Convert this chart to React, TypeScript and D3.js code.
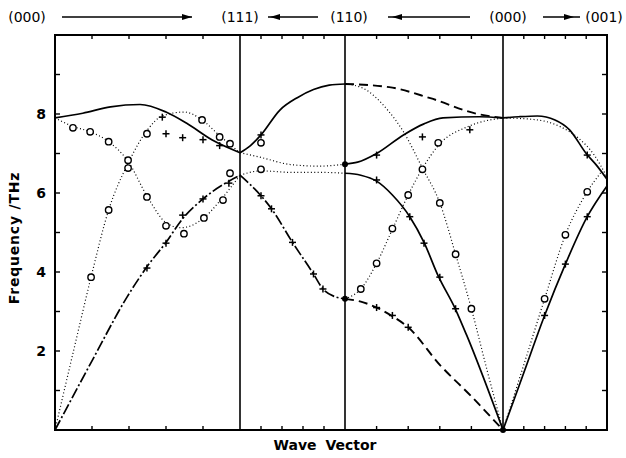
import React from "react";
import * as d3 from "d3";

type P = [number, number]; // [position along path, frequency THz]

// symmetry points along the wave-vector path
const pathStops = [0, 1, 2, 3, 4];
const stopLabels = ["(000)", "(111)", "(110)", "(000)", "(001)"];
const yTicks = [2, 4, 6, 8];

// (000) -> (111)
const seg0SolidTop: P[] = [[0, 7.9], [0.15, 8.02], [0.3, 8.18], [0.46, 8.24], [0.6, 8.05], [0.71, 7.77], [0.85, 7.34], [1, 7.02]];
const seg0DotDown: P[] = [[0, 7.9], [0.1, 7.68], [0.19, 7.55], [0.29, 7.3], [0.395, 6.8], [0.5, 5.9], [0.6, 5.25], [0.68, 5.12], [0.8, 5.35], [0.9, 5.85], [1, 6.45]];
const seg0DotUp: P[] = [[0, 0], [0.1, 2.0], [0.195, 3.87], [0.29, 5.57], [0.395, 6.75], [0.5, 7.6], [0.58, 7.95], [0.7, 8.05], [0.795, 7.85], [0.89, 7.45], [1, 7.02]];
const seg0Acoustic: P[] = [[0, 0], [0.2, 1.75], [0.39, 3.37], [0.5, 4.15], [0.6, 4.75], [0.69, 5.35], [0.8, 5.85], [0.94, 6.3], [1, 6.45]];

// (111) -> (110)
const seg1SolidTop: P[] = [[1, 7.02], [1.1, 7.2], [1.2, 7.47], [1.38, 8.1], [1.55, 8.42], [1.7, 8.62], [1.85, 8.73], [2, 8.76]];
const seg1DotA: P[] = [[1, 7.02], [1.2, 6.9], [1.48, 6.72], [1.75, 6.68], [2, 6.73]];
const seg1DotB: P[] = [[1, 6.45], [1.2, 6.56], [1.5, 6.52], [1.8, 6.52], [2, 6.5]];
const seg1Acoustic: P[] = [[1, 6.45], [1.2, 5.93], [1.3, 5.6], [1.5, 4.75], [1.7, 3.95], [1.79, 3.57], [1.9, 3.38], [2, 3.32]];

// (110) -> (000)
const seg2DashTop: P[] = [[2, 8.76], [2.28, 8.68], [2.54, 8.4], [2.84, 8.0], [3, 7.9]];
const seg2DotSteep: P[] = [[2, 8.76], [2.11, 8.66], [2.27, 8.1], [2.37, 7.55], [2.49, 6.63], [2.6, 5.75], [2.7, 4.45], [2.8, 3.07], [2.9, 1.5], [3, 0]];
const seg2SolidUp: P[] = [[2, 6.73], [2.08, 6.78], [2.2, 7.0], [2.37, 7.47], [2.5, 7.75], [2.62, 7.9], [2.85, 7.93], [3, 7.9]];
const seg2DotUp: P[] = [[2, 3.32], [2.1, 3.57], [2.2, 4.22], [2.3, 5.08], [2.4, 5.95], [2.49, 6.62], [2.59, 7.2], [2.79, 7.7], [3, 7.9]];
const seg2SolidDown: P[] = [[2, 6.5], [2.1, 6.45], [2.2, 6.3], [2.3, 5.95], [2.41, 5.4], [2.5, 4.75], [2.59, 3.9], [2.7, 3.05], [2.77, 2.4], [3, 0]];
const seg2DashLow: P[] = [[2, 3.32], [2.1, 3.25], [2.2, 3.1], [2.3, 2.88], [2.4, 2.6], [2.6, 1.65], [2.8, 0.85], [3, 0]];

// (000) -> (001)
const seg3SolidTop: P[] = [[3, 7.9], [3.15, 7.93], [3.33, 7.95], [3.5, 7.85], [3.64, 7.6], [3.8, 7.0], [3.9, 6.7], [4, 6.35]];
const seg3DotTop: P[] = [[3, 7.9], [3.3, 7.86], [3.55, 7.68], [3.72, 7.4], [3.88, 6.95], [4, 6.4]];
const seg3DotUp: P[] = [[3, 0], [3.2, 1.65], [3.4, 3.32], [3.6, 4.94], [3.81, 6.03], [3.95, 6.55]];
const seg3SolidUp: P[] = [[3, 0], [3.2, 1.45], [3.4, 2.9], [3.6, 4.2], [3.81, 5.4], [4, 6.18]];

// measured points
const circlePts: P[] = [
  [0.097, 7.65], [0.19, 7.55], [0.29, 7.3], [0.195, 3.87], [0.29, 5.57], [0.395, 6.83], [0.395, 6.63],
  [0.497, 7.5], [0.497, 5.9], [0.6, 5.17], [0.697, 4.97], [0.805, 5.37], [0.908, 5.82], [0.946, 6.5],
  [0.795, 7.85], [0.89, 7.42], [0.946, 7.25],
  [1.2, 7.27], [1.2, 6.6],
  [2.1, 3.57], [2.2, 4.22], [2.3, 5.1], [2.4, 5.95], [2.49, 6.6], [2.59, 7.27], [2.6, 5.75], [2.7, 4.45], [2.8, 3.07],
  [3.4, 3.32], [3.6, 4.94], [3.81, 6.03],
];
const crossPts: P[] = [
  [0.497, 4.1], [0.6, 4.73], [0.69, 5.44], [0.8, 5.85], [0.94, 6.25], [0.6, 7.5], [0.69, 7.4], [0.8, 7.35], [0.89, 7.2], [0.58, 7.92],
  [1.2, 7.47], [1.2, 5.93], [1.3, 5.6], [1.5, 4.75], [1.7, 3.95], [1.79, 3.57],
  [2.2, 6.96], [2.2, 6.33], [2.49, 7.42], [2.79, 7.6], [2.41, 5.4], [2.5, 4.73], [2.6, 3.87], [2.7, 3.07], [2.2, 3.1], [2.3, 2.9], [2.4, 2.6],
  [3.81, 6.96], [3.4, 2.9], [3.6, 4.2], [3.81, 5.4],
];
const nodePts: P[] = [[2, 6.73], [2, 3.32], [3, 0]];

const styles: Record<string, { dash: string; w: number }> = {
  solid: { dash: "none", w: 1.7 },
  dotted: { dash: "1 2.4", w: 1.2 },
  dashed: { dash: "9 5", w: 1.9 },
  dashdot: { dash: "11 2.5 2 2.5", w: 1.7 },
};

const curves: { pts: P[]; kind: string }[] = [
  { pts: seg0SolidTop, kind: "solid" },
  { pts: seg0DotDown, kind: "dotted" },
  { pts: seg0DotUp, kind: "dotted" },
  { pts: seg0Acoustic, kind: "dashdot" },
  { pts: seg1SolidTop, kind: "solid" },
  { pts: seg1DotA, kind: "dotted" },
  { pts: seg1DotB, kind: "dotted" },
  { pts: seg1Acoustic, kind: "dashdot" },
  { pts: seg2DashTop, kind: "dashed" },
  { pts: seg2DotSteep, kind: "dotted" },
  { pts: seg2SolidUp, kind: "solid" },
  { pts: seg2DotUp, kind: "dotted" },
  { pts: seg2SolidDown, kind: "solid" },
  { pts: seg2DashLow, kind: "dashed" },
  { pts: seg3SolidTop, kind: "solid" },
  { pts: seg3DotTop, kind: "dotted" },
  { pts: seg3DotUp, kind: "dotted" },
  { pts: seg3SolidUp, kind: "solid" },
];

const W = 626;
const H = 458;

const App: React.FC = () => {
  const x = d3.scaleLinear().domain(pathStops).range([55, 240, 345, 503, 607]);
  const y = d3.scaleLinear().domain([0, 10]).range([430, 35]);
  const [x0, x1] = [x(0), x(4)];
  const [yb, yt] = [y(0), y(10)];

  const line = d3.line<P>()
    .x(d => x(d[0]))
    .y(d => y(d[1]))
    .curve(d3.curveMonotoneX);

  // small ticks every 0.2 inside each segment
  const xTicks: number[] = [];
  for (let s = 0; s < 4; s++) for (let k = 1; k < 5; k++) xTicks.push(s + k * 0.2);
  const yMinor = d3.range(1, 10);

  const font = "'DejaVu Sans', sans-serif";
  // header label centres sit a little off the symmetry lines
  const labelShift = [-28, 0, 4, 5, -3];

  const head = (tipX: number, dir: number, cy: number) => (
    <path d={`M${tipX},${cy} L${tipX - dir * 10},${cy - 3} L${tipX - dir * 10},${cy + 3} Z`} fill="#000" />
  );

  return (
    <svg width={W} height={H} style={{ position: "absolute", left: 0, top: 0, background: "#fff" }}>
      {/* header path labels */}
      {stopLabels.map((t, i) => (
        <text key={i} x={x(pathStops[i]) + labelShift[i]} y={22} textAnchor="middle"
          fontFamily={font} fontSize={14} fill="#000">{t}</text>
      ))}
      <g stroke="#000" strokeWidth={1.6}>
        <line x1={62} x2={192} y1={17} y2={17} />
        <line x1={268} x2={318} y1={17} y2={17} />
        <line x1={388} x2={470} y1={17} y2={17} />
        <line x1={543} x2={580} y1={17} y2={17} />
      </g>
      {head(192, 1, 17)}
      {head(270, -1, 17)}
      {head(392, -1, 17)}
      {head(574, 1, 17)}

      {/* frame */}
      <rect x={x0} y={yt} width={x1 - x0} height={yb - yt} fill="none" stroke="#000" strokeWidth={2} />
      {/* symmetry point verticals */}
      {pathStops.slice(1, 4).map(q => (
        <line key={q} x1={x(q)} x2={x(q)} y1={yt} y2={yb} stroke="#000" strokeWidth={1.6} />
      ))}

      {/* ticks */}
      <g stroke="#000" strokeWidth={1.4}>
        {xTicks.map((q, i) => (
          <g key={i}>
            <line x1={x(q)} x2={x(q)} y1={yb} y2={yb - 4} />
            <line x1={x(q)} x2={x(q)} y1={yt} y2={yt + 4} />
          </g>
        ))}
        {yMinor.map(v => (
          <g key={v}>
            <line x1={x0} x2={x0 + 5} y1={y(v)} y2={y(v)} />
            <line x1={x1} x2={x1 - 5} y1={y(v)} y2={y(v)} />
          </g>
        ))}
      </g>
      {yTicks.map(v => (
        <text key={v} x={46} y={y(v) + 5} textAnchor="end" fontFamily={font} fontSize={14}
          fontWeight="bold" fill="#000">{v}</text>
      ))}

      {/* dispersion curves */}
      {curves.map((c, i) => (
        <path key={i} d={line(c.pts) || ""} fill="none" stroke="#000"
          strokeWidth={styles[c.kind].w} strokeDasharray={styles[c.kind].dash} />
      ))}

      {/* measured points */}
      {circlePts.map((d, i) => (
        <circle key={i} cx={x(d[0])} cy={y(d[1])} r={3.2} fill="#fff" stroke="#000" strokeWidth={1.4} />
      ))}
      <g stroke="#000" strokeWidth={1.5}>
        {crossPts.map((d, i) => (
          <g key={i}>
            <line x1={x(d[0]) - 3.5} x2={x(d[0]) + 3.5} y1={y(d[1])} y2={y(d[1])} />
            <line x1={x(d[0])} x2={x(d[0])} y1={y(d[1]) - 3.5} y2={y(d[1]) + 3.5} />
          </g>
        ))}
      </g>
      {nodePts.map((d, i) => (
        <circle key={i} cx={x(d[0])} cy={y(d[1])} r={3} fill="#000" />
      ))}

      {/* axis titles */}
      <text transform={`translate(19,238) rotate(-90)`} textAnchor="middle" fontFamily={font}
        fontSize={14} fontWeight="bold" letterSpacing={0.8} fill="#000">Frequency /THz</text>
      <text x={325} y={450} textAnchor="middle" fontFamily={font} fontSize={14} fontWeight="bold"
        wordSpacing={4} fill="#000">Wave Vector</text>
    </svg>
  );
};

export default App;
